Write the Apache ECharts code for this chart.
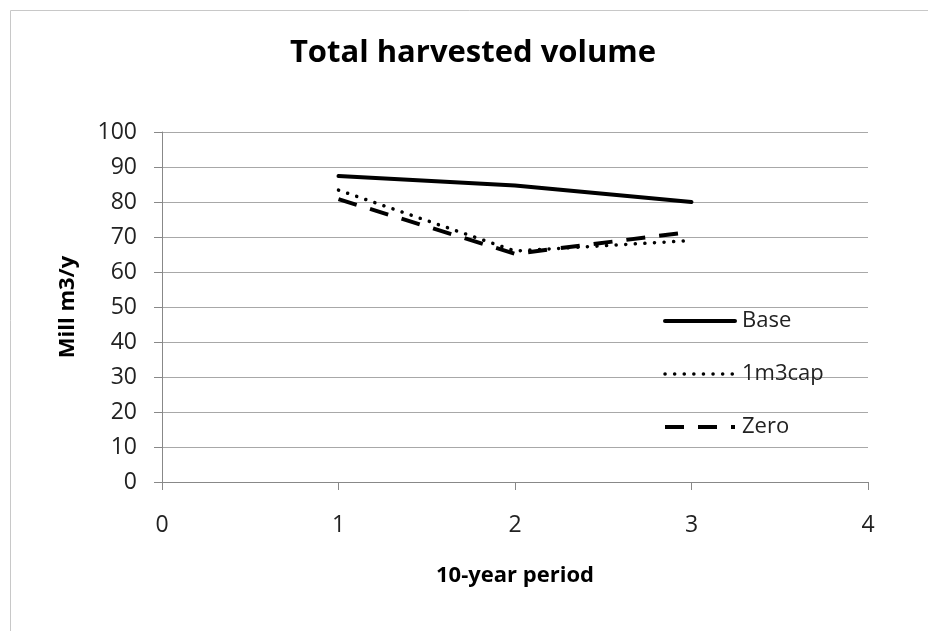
<!DOCTYPE html>
<html><head><meta charset="utf-8">
<script src="https://cdn.jsdelivr.net/npm/echarts@6/dist/echarts.min.js"></script>
<style>html,body{margin:0;padding:0;background:#fff}#c{width:930px;height:631px}</style>
</head><body><div id="c"></div>
<script>
const periods = [1, 2, 3];
const baseVals = [87.4, 84.7, 80.0];
const capVals = [83.4, 66.0, 69.0];
const zeroVals = [80.8, 65.2, 71.5];
const seriesNames = ['Base', '1m3cap', 'Zero'];

const toPts = v => periods.map((p, i) => [p, v[i]]);
const font = '"Open Sans", "DejaVu Sans", sans-serif';
const styles = {
  'Base': { color: '#000', width: 4, type: 'solid', cap: 'round' },
  '1m3cap': { color: '#000', width: 3.5, type: [0.1, 9.5], cap: 'round' },
  'Zero': { color: '#000', width: 4, type: [19, 14], cap: 'butt' }
};
const chart = echarts.init(document.getElementById('c'));
chart.setOption({
  animation: false,
  title: { text: 'Total harvested volume', left: 473, top: 38, textAlign: 'center', padding: 0,
    textStyle: { fontFamily: font, fontSize: 31, fontWeight: 'bold', color: '#000' } },
  graphic: [{ type: 'polyline', shape: { points: [[10.5, 631], [10.5, 10.5], [928, 10.5]] },
    style: { stroke: '#c8c8c8', lineWidth: 1, fill: null }, silent: true }],
  grid: { left: 162, right: 62, top: 132, bottom: 149 },
  legend: { orient: 'vertical', left: 663, top: 310, padding: 0, itemWidth: 70, itemHeight: 22, itemGap: 31,
    itemStyle: { opacity: 0 },
    textStyle: { fontFamily: font, fontSize: 22, color: '#222', padding: [0, 0, 0, 2] },
    data: seriesNames.map(n => ({ name: n, lineStyle: Object.assign({}, styles[n]) })) },
  xAxis: { type: 'value', min: 0, max: 4, interval: 1,
    name: '10-year period', nameLocation: 'middle', nameGap: 83,
    nameTextStyle: { fontFamily: font, fontSize: 22, fontWeight: 'bold', color: '#000' },
    axisLine: { lineStyle: { color: '#888' } },
    axisTick: { show: true, length: 8, lineStyle: { color: '#888' } },
    axisLabel: { fontFamily: font, fontSize: 23, color: '#222', margin: 32 },
    splitLine: { show: false } },
  yAxis: { type: 'value', min: 0, max: 100, interval: 10,
    name: 'Mill m3/y', nameLocation: 'middle', nameGap: 83, nameRotate: 90,
    nameTextStyle: { fontFamily: font, fontSize: 22, fontWeight: 'bold', color: '#000' },
    axisLine: { show: true, lineStyle: { color: '#888' } },
    axisTick: { show: true, length: 8, lineStyle: { color: '#888' } },
    axisLabel: { fontFamily: font, fontSize: 23, color: '#222', margin: 25 },
    splitLine: { lineStyle: { color: '#a8a8a8', width: 1 } } },
  series: seriesNames.map((n, i) => ({
    name: n, type: 'line', data: toPts([baseVals, capVals, zeroVals][i]), symbol: 'none',
    color: '#000', lineStyle: styles[n]
  }))
});
</script></body></html>
